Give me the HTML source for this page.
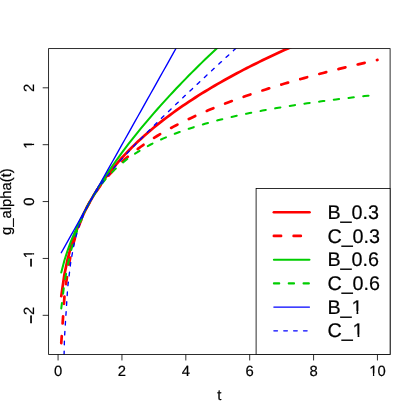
<!DOCTYPE html>
<html><head><meta charset="utf-8"><title>plot</title>
<style>html,body{margin:0;padding:0;background:#fff;}body{width:415px;height:415px;position:relative;overflow:hidden;font-family:"Liberation Sans",sans-serif;}</style></head>
<body>
<svg width="415" height="415" viewBox="0 0 415 415" style="position:absolute;left:0;top:0">
<rect x="0" y="0" width="415" height="415" fill="#fff"/>
<defs><clipPath id="cp"><rect x="48.61" y="48.61" width="341.49" height="305.91"/></clipPath></defs>
<g clip-path="url(#cp)" fill="none" stroke-linejoin="round" stroke-linecap="round">
<path d="M61.26,296.14 L64.46,274.18 L67.65,259.04 L70.84,247.14 L74.04,237.17 L77.23,228.51 L80.42,220.81 L83.62,213.85 L86.81,207.47 L90.01,201.57 L93.20,196.07 L96.39,190.91 L99.59,186.05 L102.78,181.44 L105.98,177.05 L109.17,172.86 L112.36,168.86 L115.56,165.01 L118.75,161.31 L121.94,157.75 L125.14,154.31 L128.33,150.98 L131.53,147.76 L134.72,144.63 L137.91,141.59 L141.11,138.64 L144.30,135.76 L147.50,132.96 L150.69,130.23 L153.88,127.56 L157.08,124.95 L160.27,122.41 L163.46,119.91 L166.66,117.47 L169.85,115.08 L173.05,112.74 L176.24,110.44 L179.43,108.19 L182.63,105.97 L185.82,103.80 L189.02,101.66 L192.21,99.56 L195.40,97.50 L198.60,95.46 L201.79,93.46 L204.98,91.49 L208.18,89.56 L211.37,87.64 L214.57,85.76 L217.76,83.90 L220.95,82.07 L224.15,80.27 L227.34,78.49 L230.54,76.73 L233.73,74.99 L236.92,73.28 L240.12,71.59 L243.31,69.91 L246.50,68.26 L249.70,66.63 L252.89,65.02 L256.09,63.42 L259.28,61.85 L262.47,60.29 L265.67,58.74 L268.86,57.22 L272.06,55.71 L275.25,54.21 L278.44,52.73 L281.64,51.27 L284.83,49.82 L288.02,48.39 L291.22,46.96 L294.41,45.56 L297.61,44.16 L300.80,42.78 L303.99,41.41 L307.19,40.06 L310.38,38.71 L313.58,37.38 L316.77,36.06 L319.96,34.75 L323.16,33.45 L326.35,32.16 L329.54,30.89 L332.74,29.62 L335.93,28.36 L339.13,27.12 L342.32,25.88 L345.51,24.65 L348.71,23.44 L351.90,22.23 L355.10,21.03 L358.29,19.84 L361.48,18.66 L364.68,17.49 L367.87,16.33 L371.06,15.17 L374.26,14.02 L377.45,12.88" stroke="#FF0000" stroke-width="2.72"/>
<path d="M61.26,343.20 L64.46,296.71 L67.65,271.55 L70.84,254.34 L74.04,241.28 L77.23,230.74 L80.42,221.90 L83.62,214.27 L86.81,207.56 L90.01,201.57 L93.20,196.15 L96.39,191.20 L99.59,186.63 L102.78,182.40 L105.98,178.45 L109.17,174.75 L112.36,171.26 L115.56,167.97 L118.75,164.84 L121.94,161.86 L125.14,159.02 L128.33,156.31 L131.53,153.70 L134.72,151.20 L137.91,148.80 L141.11,146.48 L144.30,144.24 L147.50,142.08 L150.69,139.98 L153.88,137.95 L157.08,135.98 L160.27,134.07 L163.46,132.21 L166.66,130.39 L169.85,128.63 L173.05,126.91 L176.24,125.23 L179.43,123.60 L182.63,122.00 L185.82,120.43 L189.02,118.90 L192.21,117.41 L195.40,115.94 L198.60,114.50 L201.79,113.09 L204.98,111.71 L208.18,110.36 L211.37,109.03 L214.57,107.72 L217.76,106.44 L220.95,105.17 L224.15,103.93 L227.34,102.71 L230.54,101.51 L233.73,100.33 L236.92,99.17 L240.12,98.02 L243.31,96.89 L246.50,95.78 L249.70,94.69 L252.89,93.60 L256.09,92.54 L259.28,91.49 L262.47,90.45 L265.67,89.43 L268.86,88.42 L272.06,87.42 L275.25,86.44 L278.44,85.46 L281.64,84.50 L284.83,83.55 L288.02,82.62 L291.22,81.69 L294.41,80.77 L297.61,79.87 L300.80,78.97 L303.99,78.08 L307.19,77.21 L310.38,76.34 L313.58,75.48 L316.77,74.63 L319.96,73.79 L323.16,72.96 L326.35,72.13 L329.54,71.32 L332.74,70.51 L335.93,69.71 L339.13,68.92 L342.32,68.13 L345.51,67.35 L348.71,66.58 L351.90,65.82 L355.10,65.06 L358.29,64.31 L361.48,63.57 L364.68,62.83 L367.87,62.10 L371.06,61.38 L374.26,60.66 L377.45,59.94" stroke="#FF0000" stroke-width="2.72" stroke-dasharray="7.16 12.60"/>
<path d="M61.26,272.55 L64.46,260.27 L67.65,250.33 L70.84,241.66 L74.04,233.82 L77.23,226.59 L80.42,219.83 L83.62,213.45 L86.81,207.38 L90.01,201.57 L93.20,195.99 L96.39,190.61 L99.59,185.41 L102.78,180.37 L105.98,175.46 L109.17,170.69 L112.36,166.03 L115.56,161.49 L118.75,157.04 L121.94,152.69 L125.14,148.42 L128.33,144.23 L131.53,140.12 L134.72,136.08 L137.91,132.10 L141.11,128.19 L144.30,124.34 L147.50,120.54 L150.69,116.80 L153.88,113.11 L157.08,109.47 L160.27,105.88 L163.46,102.33 L166.66,98.82 L169.85,95.36 L173.05,91.93 L176.24,88.54 L179.43,85.19 L182.63,81.87 L185.82,78.59 L189.02,75.34 L192.21,72.12 L195.40,68.93 L198.60,65.77 L201.79,62.64 L204.98,59.54 L208.18,56.46 L211.37,53.41 L214.57,50.39 L217.76,47.39 L220.95,44.41 L224.15,41.46 L227.34,38.53 L230.54,35.62 L233.73,32.74 L236.92,29.87 L240.12,27.03 L243.31,24.20 L246.50,21.39 L249.70,18.61 L252.89,15.84 L256.09,13.09 L259.28,10.36 L262.47,7.64 L265.67,4.94 L268.86,2.26 L272.06,-0.41 L275.25,-3.05 L278.44,-5.69 L281.64,-8.31 L284.83,-10.91 L288.02,-13.50 L291.22,-16.08 L294.41,-18.64 L297.61,-21.18 L300.80,-23.72 L303.99,-26.24 L307.19,-28.75 L310.38,-31.24 L313.58,-33.72 L316.77,-36.19 L319.96,-38.65 L323.16,-41.09 L326.35,-43.53 L329.54,-45.95 L332.74,-48.36 L335.93,-50.76 L339.13,-53.15 L342.32,-55.53 L345.51,-57.89 L348.71,-60.25 L351.90,-62.60 L355.10,-64.93 L358.29,-67.26 L361.48,-69.57 L364.68,-71.88 L367.87,-74.18 L371.06,-76.46 L374.26,-78.74 L377.45,-81.01" stroke="#00CD00" stroke-width="2.04"/>
<path d="M61.26,308.42 L64.46,282.80 L67.65,265.17 L70.84,251.36 L74.04,239.94 L77.23,230.19 L80.42,221.71 L83.62,214.23 L86.81,207.56 L90.01,201.57 L93.20,196.15 L96.39,191.22 L99.59,186.71 L102.78,182.56 L105.98,178.73 L109.17,175.18 L112.36,171.88 L115.56,168.80 L118.75,165.91 L121.94,163.20 L125.14,160.66 L128.33,158.25 L131.53,155.98 L134.72,153.82 L137.91,151.78 L141.11,149.83 L144.30,147.98 L147.50,146.21 L150.69,144.52 L153.88,142.90 L157.08,141.35 L160.27,139.87 L163.46,138.44 L166.66,137.06 L169.85,135.74 L173.05,134.47 L176.24,133.23 L179.43,132.05 L182.63,130.90 L185.82,129.79 L189.02,128.71 L192.21,127.67 L195.40,126.66 L198.60,125.68 L201.79,124.72 L204.98,123.80 L208.18,122.90 L211.37,122.03 L214.57,121.17 L217.76,120.35 L220.95,119.54 L224.15,118.75 L227.34,117.98 L230.54,117.23 L233.73,116.50 L236.92,115.79 L240.12,115.09 L243.31,114.41 L246.50,113.74 L249.70,113.09 L252.89,112.45 L256.09,111.82 L259.28,111.21 L262.47,110.61 L265.67,110.02 L268.86,109.45 L272.06,108.88 L275.25,108.33 L278.44,107.78 L281.64,107.25 L284.83,106.73 L288.02,106.21 L291.22,105.71 L294.41,105.21 L297.61,104.72 L300.80,104.24 L303.99,103.77 L307.19,103.31 L310.38,102.85 L313.58,102.41 L316.77,101.96 L319.96,101.53 L323.16,101.10 L326.35,100.68 L329.54,100.27 L332.74,99.86 L335.93,99.46 L339.13,99.06 L342.32,98.67 L345.51,98.29 L348.71,97.91 L351.90,97.53 L355.10,97.17 L358.29,96.80 L361.48,96.44 L364.68,96.09 L367.87,95.74 L371.06,95.40 L374.26,95.06 L377.45,94.72" stroke="#00CD00" stroke-width="2.04" stroke-dasharray="5.37 9.45"/>
<path d="M61.26,252.76 L64.46,247.07 L67.65,241.38 L70.84,235.70 L74.04,230.01 L77.23,224.32 L80.42,218.63 L83.62,212.95 L86.81,207.26 L90.01,201.57 L93.20,195.88 L96.39,190.20 L99.59,184.51 L102.78,178.82 L105.98,173.13 L109.17,167.45 L112.36,161.76 L115.56,156.07 L118.75,150.38 L121.94,144.70 L125.14,139.01 L128.33,133.32 L131.53,127.63 L134.72,121.95 L137.91,116.26 L141.11,110.57 L144.30,104.88 L147.50,99.20 L150.69,93.51 L153.88,87.82 L157.08,82.13 L160.27,76.45 L163.46,70.76 L166.66,65.07 L169.85,59.38 L173.05,53.70 L176.24,48.01 L179.43,42.32 L182.63,36.63 L185.82,30.95 L189.02,25.26 L192.21,19.57 L195.40,13.88 L198.60,8.19 L201.79,2.51 L204.98,-3.18 L208.18,-8.87 L211.37,-14.56 L214.57,-20.24 L217.76,-25.93 L220.95,-31.62 L224.15,-37.31 L227.34,-42.99 L230.54,-48.68 L233.73,-54.37 L236.92,-60.06 L240.12,-65.74 L243.31,-71.43 L246.50,-77.12 L249.70,-82.81 L252.89,-88.49 L256.09,-94.18 L259.28,-99.87 L262.47,-105.56 L265.67,-111.24 L268.86,-116.93 L272.06,-122.62 L275.25,-128.31 L278.44,-133.99 L281.64,-139.68 L284.83,-145.37 L288.02,-151.06 L291.22,-156.74 L294.41,-162.43 L297.61,-168.12 L300.80,-173.81 L303.99,-179.49 L307.19,-185.18 L310.38,-190.87 L313.58,-196.56 L316.77,-202.24 L319.96,-207.93 L323.16,-213.62 L326.35,-219.31 L329.54,-224.99 L332.74,-230.68 L335.93,-236.37 L339.13,-242.06 L342.32,-247.74 L345.51,-253.43 L348.71,-259.12 L351.90,-264.81 L355.10,-270.49 L358.29,-276.18 L361.48,-281.87 L364.68,-287.56 L367.87,-293.24 L371.06,-298.93 L374.26,-304.62 L377.45,-310.31" stroke="#0000FF" stroke-width="1.36"/>
<path d="M61.26,483.10 L64.46,338.07 L67.65,287.83 L70.84,261.29 L74.04,244.23 L77.23,231.91 L80.42,222.29 L83.62,214.37 L86.81,207.57 L90.01,201.57 L93.20,196.14 L96.39,191.14 L99.59,186.48 L102.78,182.07 L105.98,177.87 L109.17,173.84 L112.36,169.96 L115.56,166.18 L118.75,162.51 L121.94,158.91 L125.14,155.39 L128.33,151.93 L131.53,148.53 L134.72,145.17 L137.91,141.85 L141.11,138.57 L144.30,135.32 L147.50,132.10 L150.69,128.91 L153.88,125.74 L157.08,122.59 L160.27,119.46 L163.46,116.34 L166.66,113.25 L169.85,110.16 L173.05,107.09 L176.24,104.04 L179.43,100.99 L182.63,97.96 L185.82,94.93 L189.02,91.91 L192.21,88.90 L195.40,85.90 L198.60,82.91 L201.79,79.92 L204.98,76.94 L208.18,73.96 L211.37,70.99 L214.57,68.03 L217.76,65.07 L220.95,62.12 L224.15,59.16 L227.34,56.22 L230.54,53.27 L233.73,50.33 L236.92,47.40 L240.12,44.47 L243.31,41.54 L246.50,38.61 L249.70,35.68 L252.89,32.76 L256.09,29.84 L259.28,26.93 L262.47,24.01 L265.67,21.10 L268.86,18.19 L272.06,15.28 L275.25,12.38 L278.44,9.47 L281.64,6.57 L284.83,3.67 L288.02,0.77 L291.22,-2.13 L294.41,-5.02 L297.61,-7.92 L300.80,-10.81 L303.99,-13.71 L307.19,-16.60 L310.38,-19.49 L313.58,-22.38 L316.77,-25.26 L319.96,-28.15 L323.16,-31.04 L326.35,-33.92 L329.54,-36.80 L332.74,-39.69 L335.93,-42.57 L339.13,-45.45 L342.32,-48.33 L345.51,-51.21 L348.71,-54.09 L351.90,-56.96 L355.10,-59.84 L358.29,-62.72 L361.48,-65.59 L364.68,-68.47 L367.87,-71.34 L371.06,-74.22 L374.26,-77.09 L377.45,-79.96" stroke="#0000FF" stroke-width="1.36" stroke-dasharray="3.58 6.30"/>
</g>
<g fill="none" stroke="#000" stroke-width="0.82">
<rect x="48.61" y="48.61" width="341.49" height="305.91"/>
<path d="M58.07,354.53 v5.93"/>
<path d="M121.94,354.53 v5.93"/>
<path d="M185.82,354.53 v5.93"/>
<path d="M249.70,354.53 v5.93"/>
<path d="M313.58,354.53 v5.93"/>
<path d="M377.45,354.53 v5.93"/>
<path d="M48.61,315.32 h-5.93"/>
<path d="M48.61,258.45 h-5.93"/>
<path d="M48.61,201.57 h-5.93"/>
<path d="M48.61,144.70 h-5.93"/>
<path d="M48.61,87.82 h-5.93"/>
</g>
<g font-family="Liberation Sans, sans-serif" font-size="14.82px" fill="#000" text-anchor="middle" stroke="#000" stroke-width="0.2" style="will-change:opacity" text-rendering="geometricPrecision">
<text x="58.07" y="375.87">0</text>
<text x="121.94" y="375.87">2</text>
<text x="185.82" y="375.87">4</text>
<text x="249.70" y="375.87">6</text>
<text x="313.58" y="375.87">8</text>
<text x="377.45" y="375.87">10</text>
<rect x="368.84" y="373.46" width="4.10" height="3.01" fill="#fff" stroke="none"/><rect x="374.25" y="373.46" width="3.98" height="3.01" fill="#fff" stroke="none"/>
<text x="219.36" y="399.59">t</text>
<text transform="translate(34.39,315.32) rotate(-90)"><tspan dy="1.6" stroke="#000" stroke-width="0.7">−</tspan><tspan dy="-1.6">2</tspan></text>
<text transform="translate(34.39,258.45) rotate(-90)"><tspan dy="1.6" stroke="#000" stroke-width="0.7">−</tspan><tspan dy="-1.6">1</tspan></text>
<g transform="translate(34.39,258.45) rotate(-90)"><rect x="-0.16" y="-2.41" width="4.10" height="3.01" fill="#fff" stroke="none"/><rect x="5.24" y="-2.41" width="3.98" height="3.01" fill="#fff" stroke="none"/></g>
<text transform="translate(34.39,201.57) rotate(-90)">0</text>
<text transform="translate(34.39,144.70) rotate(-90)">1</text>
<g transform="translate(34.39,144.70) rotate(-90)"><rect x="-4.49" y="-2.41" width="4.10" height="3.01" fill="#fff" stroke="none"/><rect x="0.92" y="-2.41" width="3.98" height="3.01" fill="#fff" stroke="none"/></g>
<text transform="translate(34.39,87.82) rotate(-90)">2</text>
<text transform="translate(10.80,201.57) rotate(-90)">g_alpha(t)</text>
</g>
<rect x="256.10" y="188.53" width="134.00" height="166.00" fill="#fff" stroke="#000" stroke-width="0.82"/>
<path d="M273.89,212.24 H309.46" stroke="#FF0000" stroke-width="2.72" fill="none" stroke-linecap="round"/>
<path d="M273.89,235.96 H309.46" stroke="#FF0000" stroke-width="2.72" fill="none" stroke-linecap="round" stroke-dasharray="7.16 12.60"/>
<path d="M273.89,259.67 H309.46" stroke="#00CD00" stroke-width="2.04" fill="none" stroke-linecap="round"/>
<path d="M273.89,283.39 H309.46" stroke="#00CD00" stroke-width="2.04" fill="none" stroke-linecap="round" stroke-dasharray="5.37 9.45"/>
<path d="M273.89,307.10 H309.46" stroke="#0000FF" stroke-width="1.36" fill="none" stroke-linecap="round"/>
<path d="M273.89,330.82 H309.46" stroke="#0000FF" stroke-width="1.36" fill="none" stroke-linecap="round" stroke-dasharray="3.58 6.30"/>
<g font-family="Liberation Sans, sans-serif" font-size="19.76px" fill="#000" stroke="#000" stroke-width="0.2" style="will-change:opacity" text-rendering="geometricPrecision">
<text x="327.39" y="218.84">B_0.3</text>
<text x="327.39" y="242.56">C_0.3</text>
<text x="327.39" y="266.27">B_0.6</text>
<text x="327.39" y="289.99">C_0.6</text>
<text x="327.39" y="313.70">B_1</text>
<rect x="351.57" y="310.93" width="4.96" height="3.38" fill="#fff" stroke="none"/><rect x="358.28" y="310.93" width="4.81" height="3.38" fill="#fff" stroke="none"/>
<text x="327.39" y="337.42">C_1</text>
<rect x="352.65" y="334.64" width="4.96" height="3.38" fill="#fff" stroke="none"/><rect x="359.36" y="334.64" width="4.81" height="3.38" fill="#fff" stroke="none"/>
</g>
</svg>
</body></html>
